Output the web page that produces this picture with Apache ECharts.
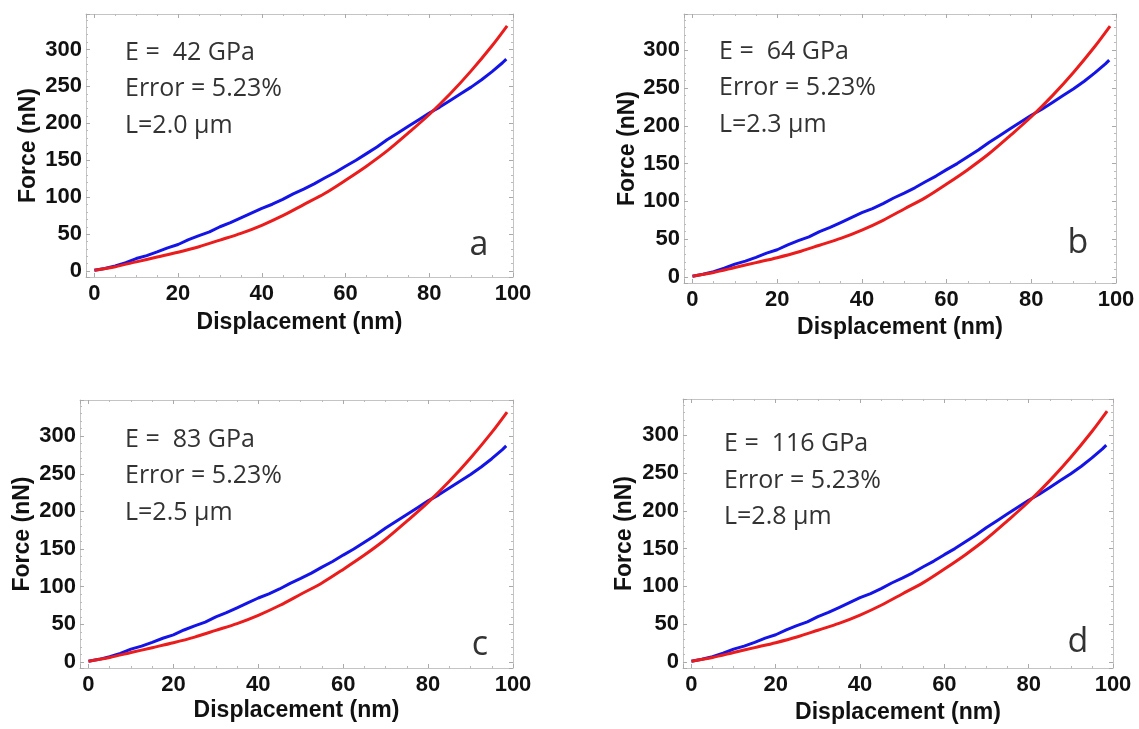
<!DOCTYPE html>
<html>
<head>
<meta charset="utf-8">
<script src="https://cdn.jsdelivr.net/npm/echarts@6/dist/echarts.min.js"></script>
<style>
  html, body { margin: 0; background: #fff; }
  #chart { width: 1139px; height: 729px; }
</style>
</head>
<body>
<div id="chart"></div>
<script>
// measured force-displacement curve (blue), same in all four panels
const measX = [0, 2.5, 5, 7.5, 10, 12.5, 15, 17.5, 20, 22.5, 25, 27.5, 30, 32.5, 35, 37.5, 40, 42.5, 45, 47.5,
  50, 52.5, 55, 57.5, 60, 62.5, 65, 67.5, 70, 72.5, 75, 77.5, 80, 82.5, 85, 87.5, 90, 92.5, 95, 97.5, 98.4];
const measForce = [1, 3.5, 7, 11.5, 17, 21, 26, 31.5, 36, 42.5, 48, 53, 60, 65.5, 72, 78.5, 85, 90.5, 97, 104.5,
  111, 118, 126, 133.5, 142, 150, 159, 168, 178, 187, 196, 205, 214, 222, 231, 240, 249, 259, 270, 282, 287];

// model fit (red)
const fitX = [0, 5, 10, 15, 20, 25, 30, 35, 40, 45, 50, 55, 60, 65, 70, 75, 80, 85, 90, 95, 98.6];
const fitForce = [1, 6, 12.5, 19, 25.5, 33, 42, 51, 62, 75, 90, 105, 123, 142, 163, 187, 212, 240, 271, 305, 332];

const moduli = ['42', '64', '83', '116'];
const errors = ['5.23%', '5.23%', '5.23%', '5.23%'];
const lengths = ['2.0', '2.3', '2.5', '2.8'];
const letters = ['a', 'b', 'c', 'd'];

// layout of each panel (pixels)
const panels = [
  { grid: { left: 86, top: 14, width: 427, height: 263 }, yGap: 46, xGap: 34, tx: 125, ty: [53, 89, 126], lx: 479, ly: 245 },
  { grid: { left: 684, top: 14, width: 432, height: 269 }, yGap: 44, xGap: 33, tx: 719, ty: [52, 88, 125], lx: 1078, ly: 243 },
  { grid: { left: 80, top: 400, width: 433, height: 268 }, yGap: 46, xGap: 31, tx: 125, ty: [440, 476, 513], lx: 480, ly: 645 },
  { grid: { left: 683, top: 399, width: 430, height: 269 }, yGap: 47, xGap: 33, tx: 724, ty: [444, 481, 517], lx: 1078, ly: 642 }
];

const frame = '#c4c4c4';
const tickFont = { fontFamily: 'Liberation Sans, Arial, sans-serif', fontWeight: 'bold', fontSize: 22, color: '#111' };

function xAxisFor(i, top) {
  return {
    type: 'value', gridIndex: i, position: top ? 'top' : 'bottom',
    min: -2, max: 100, splitNumber: 5, minInterval: 20, maxInterval: 20,
    name: top ? '' : 'Displacement (nm)', nameLocation: 'middle', nameGap: panels[i].xGap,
    nameTextStyle: Object.assign({}, tickFont, { fontSize: 23 }),
    axisLine: { show: true, onZero: false, lineStyle: { color: frame, width: 1 } },
    axisTick: { show: true, inside: true, length: 4, lineStyle: { color: '#aaa' } },
    minorTick: { show: true, splitNumber: 4, length: 2, lineStyle: { color: '#bbb' } },
    splitLine: { show: false },
    axisLabel: top ? { show: false } : Object.assign({ margin: 6, formatter: (v) => (v >= 0 && v % 20 === 0 ? String(v) : '') }, tickFont)
  };
}

function yAxisFor(i, right) {
  return {
    type: 'value', gridIndex: i, position: right ? 'right' : 'left',
    min: -8, max: 348, splitNumber: 7, minInterval: 50, maxInterval: 50,
    name: right ? '' : 'Force (nN)', nameLocation: 'middle', nameGap: panels[i].yGap,
    nameTextStyle: Object.assign({}, tickFont, { fontSize: 23 }),
    axisLine: { show: true, onZero: false, lineStyle: { color: frame, width: 1 } },
    axisTick: { show: true, inside: true, length: 4, lineStyle: { color: '#aaa' } },
    minorTick: { show: true, splitNumber: 5, length: 2, lineStyle: { color: '#bbb' } },
    splitLine: { show: false },
    axisLabel: right ? { show: false } : Object.assign({ margin: 4, formatter: (v) => (v >= 0 && v <= 300 && v % 50 === 0 ? String(v) : '') }, tickFont)
  };
}

const grids = [], xAxes = [], yAxes = [], series = [], texts = [];
panels.forEach((p, i) => {
  grids.push(Object.assign({ show: false }, p.grid));
  xAxes.push(xAxisFor(i, false), xAxisFor(i, true));
  yAxes.push(yAxisFor(i, false), yAxisFor(i, true));
  series.push({
    type: 'line', xAxisIndex: 2 * i, yAxisIndex: 2 * i, showSymbol: false, z: 2,
    data: measX.map((x, k) => [x, measForce[k]]),
    lineStyle: { color: '#1414e6', width: 3 }
  });
  series.push({
    type: 'line', xAxisIndex: 2 * i, yAxisIndex: 2 * i, showSymbol: false, smooth: 0.3, z: 3,
    data: fitX.map((x, k) => [x, fitForce[k]]),
    lineStyle: { color: '#ea1c1c', width: 3 }
  });
  const lines = ['E =  ' + moduli[i] + ' GPa', 'Error = ' + errors[i], 'L=' + lengths[i] + ' \u00b5m'];
  lines.forEach((t, k) => {
    texts.push({
      type: 'text', left: p.tx, top: p.ty[k] - 13,
      style: { text: t, font: '25px "Open Sans", sans-serif', fill: '#333' }
    });
  });
  texts.push({
    type: 'text', x: p.lx, y: p.ly,
    style: { text: letters[i], font: '34px "Open Sans", sans-serif', fill: '#333', textAlign: 'center', textVerticalAlign: 'middle' }
  });
});

const chart = echarts.init(document.getElementById('chart'));
chart.setOption({
  backgroundColor: '#fff',
  animation: false,
  grid: grids,
  xAxis: xAxes,
  yAxis: yAxes,
  series: series,
  graphic: texts
});
</script>
</body>
</html>
